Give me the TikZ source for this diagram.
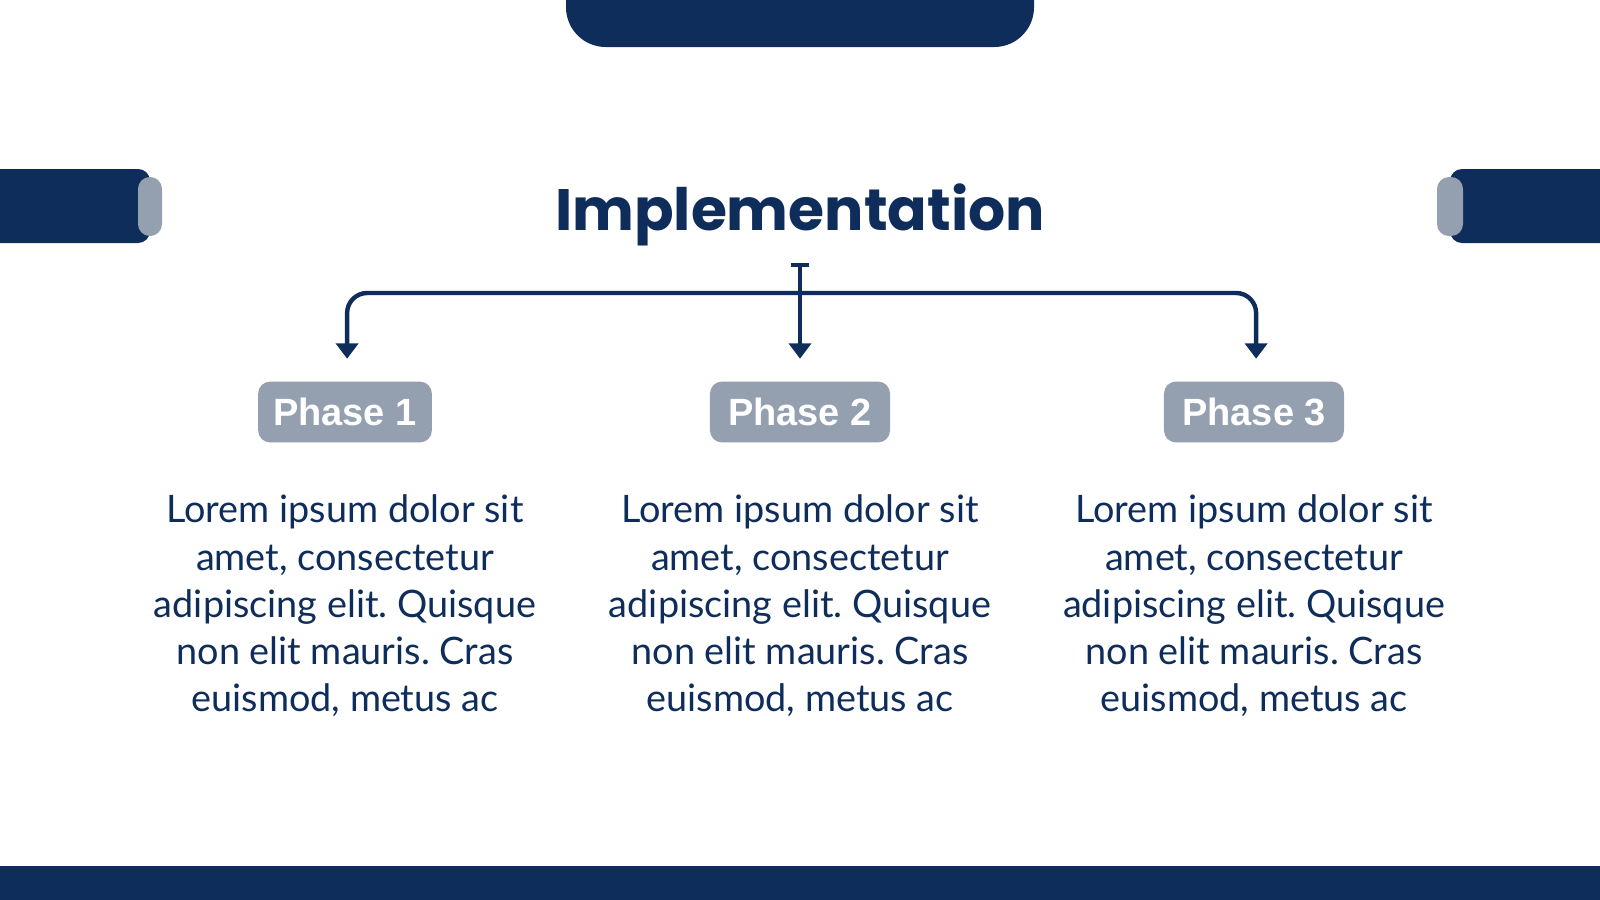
\documentclass[tikz,border=0pt]{standalone}
\usepackage{fontspec}
\setmainfont{Lato}
\newfontfamily\titlefont{Poppins}
\newfontfamily\phasefont{Liberation Sans}
\usetikzlibrary{positioning,arrows.meta}
\definecolor{navy}{HTML}{0F2D5A}
\definecolor{slate}{HTML}{949FB0}
\tikzset{phase/.style={fill=slate,rounded corners=3.4pt,minimum width=49.4pt,minimum height=17.3pt,inner sep=0pt,text=white,font=\phasefont\bfseries\fontsize{10.8pt}{12pt}\selectfont},
body/.style={text=navy,align=center,inner sep=0pt,font=\fontsize{10.75pt}{13.45pt}\selectfont},
conn/.style={draw=navy,line width=1.25pt,-{Triangle[width=6.3pt,length=4.4pt]}}}

\begin{document}
\frenchspacing
\begin{tikzpicture}[x=0.01cm,y=-0.01cm]
		\useasboundingbox (0,0) rectangle (1600,900);
		% frame
		\fill[navy] (566,0) [rounded corners=11.3pt] -- (566,47) -- (1034,47) [sharp corners] -- (1034,0) -- cycle;
		\fill[navy] (0,169) [rounded corners=3.4pt] -- (150,169) -- (150,243) [sharp corners] -- (0,243) -- cycle;
		\fill[navy] (1600,169) [rounded corners=3.4pt] -- (1450,169) -- (1450,243) [sharp corners] -- (1600,243) -- cycle;
		\fill[slate,rounded corners=3.4pt] (138,177) rectangle (162,236);
		\fill[slate,rounded corners=3.4pt] (1437,177) rectangle (1463,236);
		\fill[navy] (0,866) rectangle (1600,900);
		% title
		\node[text=navy,font=\titlefont\bfseries\fontsize{16.6pt}{20pt}\selectfont] (title) at (800,215) {Implementation};
		% phases
		\node[phase] (ph1) at (345,412) {Phase 1};
		\node[phase,minimum width=51.2pt] (ph2) at (800,412) {Phase 2};
		\node[phase,minimum width=51.2pt] (ph3) at (1254,412) {Phase 3};
		\node[body] (tx1) at (345,606) {Lorem ipsum dolor sit\\amet, consectetur\\adipiscing elit. Quisque\\non elit mauris. Cras\\euismod, metus ac};
		\node[body] (tx2) at (800,606) {Lorem ipsum dolor sit\\amet, consectetur\\adipiscing elit. Quisque\\non elit mauris. Cras\\euismod, metus ac};
		\node[body] (tx3) at (1254,606) {Lorem ipsum dolor sit\\amet, consectetur\\adipiscing elit. Quisque\\non elit mauris. Cras\\euismod, metus ac};
		% connectors
		\coordinate (src) at (800,263);
		\coordinate (hub) at (800,293);
		\draw[conn,{Bar[width=5.2pt]}-{Triangle[width=6.3pt,length=4.4pt]}] (src) -- ([yshift=6.3pt]ph2.north);
		\draw[conn,rounded corners=5.7pt] (hub) -| ([xshift=0.6pt,yshift=6.3pt]ph1.north);
		\draw[conn,rounded corners=5.7pt] (hub) -| ([xshift=0.6pt,yshift=6.3pt]ph3.north);
	\end{tikzpicture}
\end{document}
